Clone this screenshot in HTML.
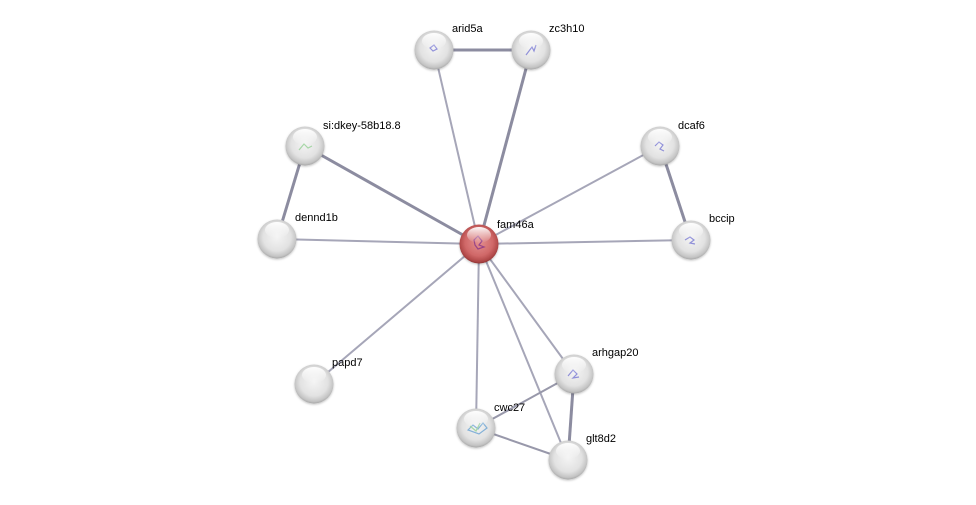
<!DOCTYPE html>
<html><head><style>body{margin:0;background:#fff}svg{display:block}text{font-family:"Liberation Sans",sans-serif;font-size:11px;fill:#000}</style></head>
<body>
<svg width="976" height="505" viewBox="0 0 976 505" xmlns="http://www.w3.org/2000/svg">
<defs>
<radialGradient id="g" cx="50%" cy="45%" r="55%"><stop offset="0" stop-color="#f4f4f4"/><stop offset="0.65" stop-color="#e2e2e2"/><stop offset="0.9" stop-color="#c4c4c4"/><stop offset="1" stop-color="#a8a8a8"/></radialGradient>
<radialGradient id="r" cx="50%" cy="45%" r="55%"><stop offset="0" stop-color="#e49090"/><stop offset="0.65" stop-color="#d06868"/><stop offset="0.9" stop-color="#b04848"/><stop offset="1" stop-color="#903434"/></radialGradient>
<linearGradient id="hl" x1="0" y1="0" x2="0" y2="1"><stop offset="0" stop-color="#fff" stop-opacity="0.95"/><stop offset="1" stop-color="#fff" stop-opacity="0"/></linearGradient>
<filter id="sh" x="-30%" y="-30%" width="160%" height="160%"><feDropShadow dx="0" dy="1" stdDeviation="1" flood-opacity="0.25"/></filter>
</defs>
<g stroke="#a6a6b8" stroke-width="2">
<line x1="479" y1="244" x2="434" y2="50"/>
<line x1="479" y1="244" x2="660" y2="146"/>
<line x1="479" y1="244" x2="277" y2="239"/>
<line x1="479" y1="244" x2="691" y2="240"/>
<line x1="479" y1="244" x2="314" y2="384"/>
<line x1="479" y1="244" x2="574" y2="374"/>
<line x1="479" y1="244" x2="476" y2="428"/>
<line x1="479" y1="244" x2="568" y2="460"/>
</g>
<g stroke="#8c8ca0" stroke-width="3">
<line x1="479" y1="244" x2="531" y2="50"/>
<line x1="479" y1="244" x2="305" y2="146"/>
<line x1="434" y1="50" x2="531" y2="50"/>
<line x1="305" y1="146" x2="277" y2="239"/>
<line x1="660" y1="146" x2="691" y2="240"/>
<line x1="574" y1="374" x2="568" y2="460"/>
</g>
<g stroke="#9898aa" stroke-width="2">
<line x1="574" y1="374" x2="476" y2="428"/>
<line x1="476" y1="428" x2="568" y2="460"/>
</g>
<g filter="url(#sh)">
<circle cx="479" cy="244" r="19.5" fill="url(#r)"/>
<circle cx="434" cy="50" r="19.5" fill="url(#g)"/>
<circle cx="531" cy="50" r="19.5" fill="url(#g)"/>
<circle cx="305" cy="146" r="19.5" fill="url(#g)"/>
<circle cx="660" cy="146" r="19.5" fill="url(#g)"/>
<circle cx="277" cy="239" r="19.5" fill="url(#g)"/>
<circle cx="691" cy="240" r="19.5" fill="url(#g)"/>
<circle cx="314" cy="384" r="19.5" fill="url(#g)"/>
<circle cx="574" cy="374" r="19.5" fill="url(#g)"/>
<circle cx="476" cy="428" r="19.5" fill="url(#g)"/>
<circle cx="568" cy="460" r="19.5" fill="url(#g)"/>
</g>
<g fill="none" stroke-width="1.2" opacity="0.7">
<path d="M474 240 l4 -4 l4 5 l-3 4 l5 2 l-6 2 l-3 -4 z" stroke="#7a2a8a"/>
<path d="M430 48 l4 -3 l3 4 l-4 2 z" stroke="#6a6ad0"/>
<path d="M526 55 l6 -8 l2 4 l2 -6" stroke="#6a6ad0"/>
<path d="M655 146 l4 -4 l4 3 l-3 4 l4 2" stroke="#6a6ad0"/>
<path d="M685 240 l5 -3 l4 3 l-4 3 l5 1" stroke="#6a6ad0"/>
<path d="M568 376 l5 -6 l4 4 l-4 4 l6 -1" stroke="#6a6ad0"/>
<path d="M299 150 l5 -6 l4 4 l4 -2" stroke="#8c8"/>
<path d="M468 430 l5 -5 l5 4 l5 -6 l4 5 l-8 6 z" stroke="#5a9ad0"/>
<path d="M470 426 l6 5 l4 -8" stroke="#8c8"/>
</g>
<g fill="url(#hl)">
<ellipse cx="479" cy="235" rx="12" ry="8"/><ellipse cx="434" cy="41" rx="12" ry="8"/><ellipse cx="531" cy="41" rx="12" ry="8"/><ellipse cx="305" cy="137" rx="12" ry="8"/><ellipse cx="660" cy="137" rx="12" ry="8"/><ellipse cx="277" cy="230" rx="12" ry="8"/><ellipse cx="691" cy="231" rx="12" ry="8"/><ellipse cx="314" cy="375" rx="12" ry="8"/><ellipse cx="574" cy="365" rx="12" ry="8"/><ellipse cx="476" cy="419" rx="12" ry="8"/><ellipse cx="568" cy="451" rx="12" ry="8"/>
</g>
<text x="497" y="228">fam46a</text>
<text x="452" y="32">arid5a</text>
<text x="549" y="32">zc3h10</text>
<text x="323" y="129">si:dkey-58b18.8</text>
<text x="678" y="129">dcaf6</text>
<text x="295" y="221">dennd1b</text>
<text x="709" y="222">bccip</text>
<text x="332" y="366">papd7</text>
<text x="592" y="356">arhgap20</text>
<text x="494" y="411">cwc27</text>
<text x="586" y="442">glt8d2</text>
</svg>
</body></html>
